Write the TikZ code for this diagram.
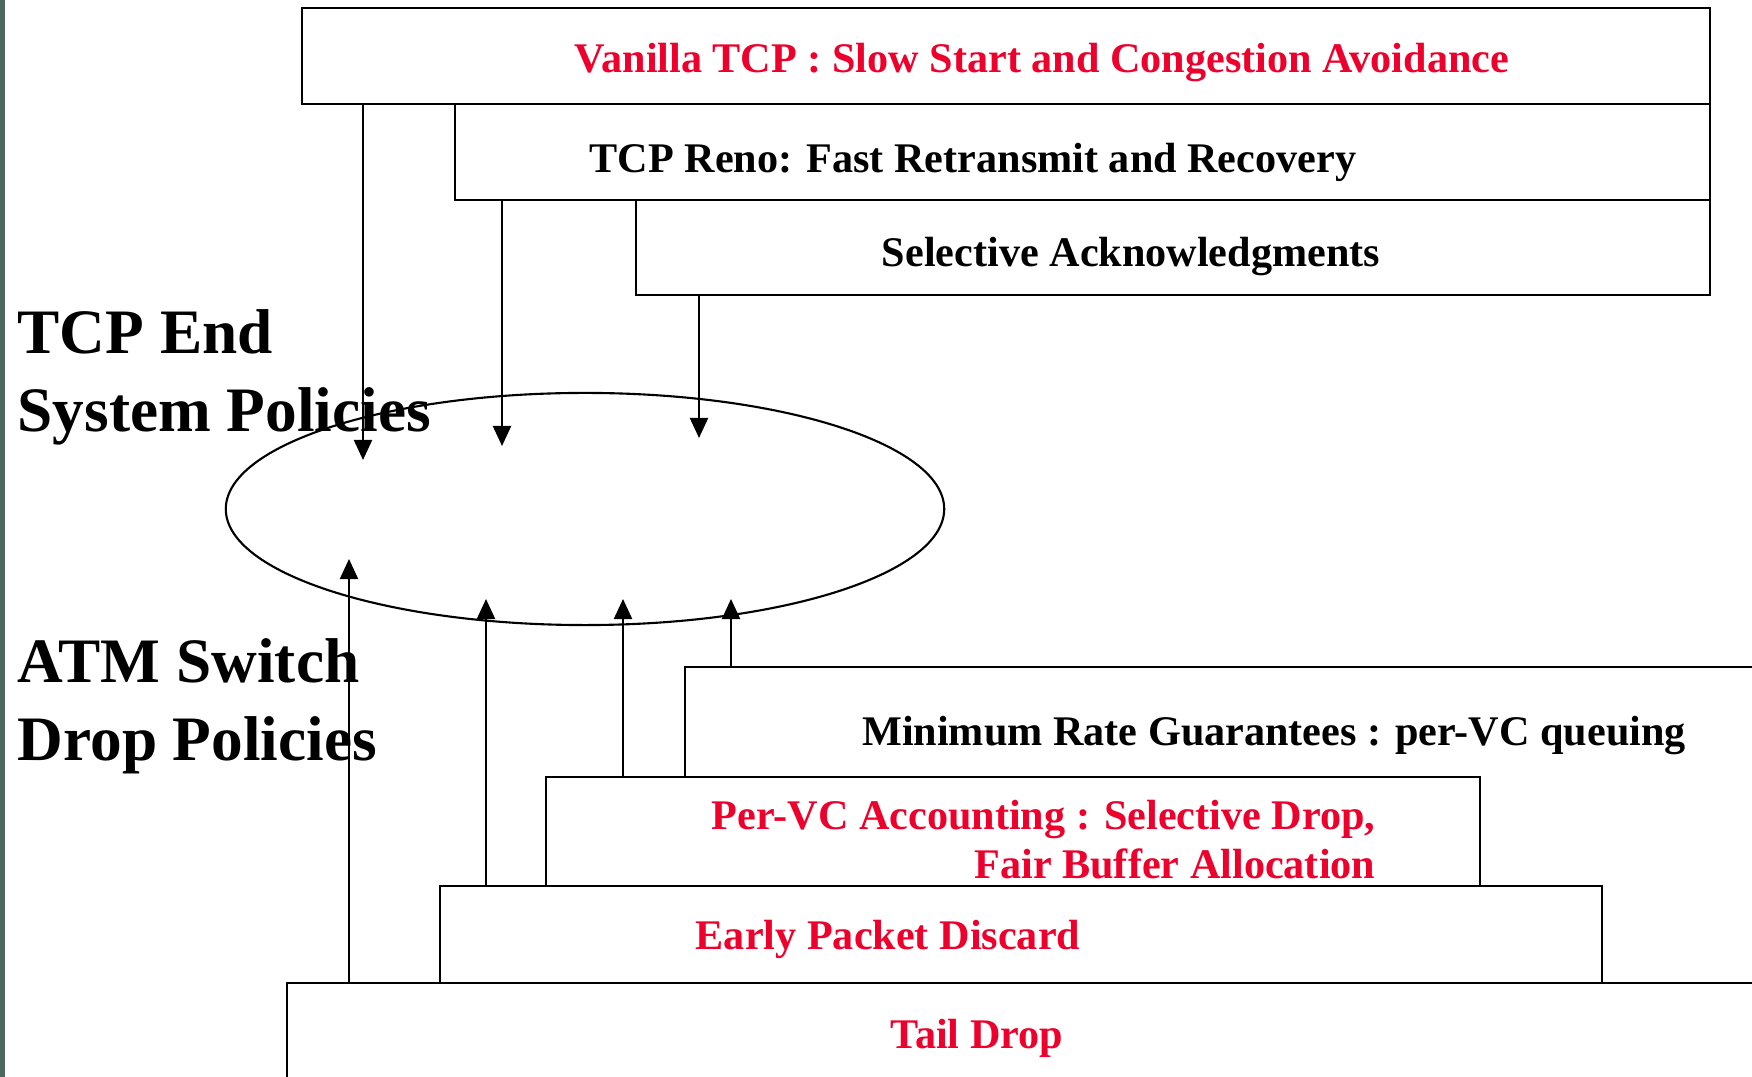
\documentclass[tikz,border=0pt]{standalone}
\usepackage{fontspec}
\setmainfont{Liberation Serif}
\usepackage{tikz}
\usetikzlibrary{arrows.meta}
\usetikzlibrary{positioning,fit}
\usetikzlibrary{shapes.geometric}
\definecolor{polred}{RGB}{237,0,43}
\definecolor{edgegreen}{RGB}{75,105,92}

\begin{document}
\begin{tikzpicture}[x=0.01cm,y=-0.01cm,
    box/.style={draw,fill=white,inner sep=0pt,line width=0.6pt},
    pol/.style={-{Triangle[length=2mm,width=1.8mm]},line width=0.6pt},
    lbl/.style={font=\fontsize{12}{14.2}\selectfont\bfseries,anchor=base,inner sep=0pt},
    big/.style={font=\fontsize{18}{22.2}\selectfont\bfseries,align=left,anchor=base west,inner sep=0pt}]
    \useasboundingbox (0,0) rectangle (1752,1077);
    \clip (0,0) rectangle (1752,1077);
    \fill[edgegreen] (0,0) rectangle (5,1077);
    \node[box,fit={(302,8) (1710,104)}] (vanilla) {};
    \node[box,fit={(455,104) (1710,200)}] (reno) {};
    \node[box,fit={(636,200) (1710,295)}] (sack) {};
    \node[box,fit={(685,667) (1800,1000)}] (minrate) {};
    \node[box,fit={(546,777) (1480,886)}] (pervc) {};
    \node[box,fit={(440,886) (1602,983)}] (epd) {};
    \node[box,fit={(287,983) (1800,1120)}] (taildrop) {};
    \node[lbl,text=polred] (vanillatxt) at (1042,73) {Vanilla TCP : Slow Start and Congestion Avoidance};
    \node[lbl] (renotxt) at (973,173) {TCP Reno: Fast Retransmit and Recovery};
    \node[lbl] (sacktxt) at (1131,267) {Selective Acknowledgments};
    \node[lbl] (minratetxt) at (1274,746) {Minimum Rate Guarantees : per-VC queuing};
    \node[lbl,text=polred,align=right,anchor=base east] (pervctxt) at (1376,879)
      {Per-VC Accounting : Selective Drop,\\Fair Buffer Allocation};
    \node[lbl,text=polred] (epdtxt) at (888,950) {Early Packet Discard};
    \node[lbl,text=polred] (tailtxt) at (977,1048) {Tail Drop};
    \node[draw,ellipse,line width=0.6pt,inner sep=0pt,minimum width=7.18cm,minimum height=2.32cm]
      (core) at (585,509) {};
    \coordinate (tipa) at (363,460);
    \coordinate (tipb) at (502,446);
    \coordinate (tipc) at (699,438);
    \coordinate (tipd) at (349,559);
    \coordinate (tipe) at (486,599);
    \coordinate (tipf) at (623,599);
    \coordinate (tipg) at (731,599);
    \foreach \src/\tip in {vanilla/tipa, reno/tipb, sack/tipc}
      \draw[pol] (\src.south -| \tip) -- (\tip);
    \foreach \src/\tip in {taildrop/tipd, epd/tipe, pervc/tipf, minrate/tipg}
      \draw[pol] (\src.north -| \tip) -- (\tip);
    \node[big] (tcpend) at (17,432) {TCP End\\System Policies};
    \node[big] (atmswitch) at (17,761) {ATM Switch\\Drop Policies};
\end{tikzpicture}
\end{document}
